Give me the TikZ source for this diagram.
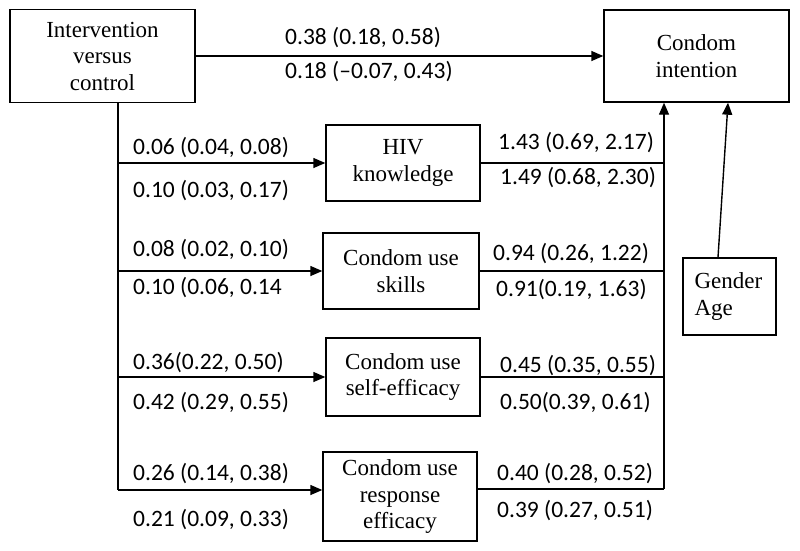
\documentclass[tikz,border=0pt]{standalone}
\usepackage{fontspec}
\setmainfont{Liberation Serif}
\newfontfamily\lblfont{Carlito}
\usetikzlibrary{arrows.meta}
\begin{document}
\begin{tikzpicture}[x=1pt,y=-1pt,
  box/.style={draw,line width=1.4pt,inner sep=0pt,align=center,
    font=\fontsize{23}{26.5}\selectfont},
  lbl/.style={inner sep=0pt,anchor=west,font=\lblfont\fontsize{23.5}{26}\selectfont},
  conn/.style={line width=1.4pt},
  arr/.style={line width=1.4pt,-{Triangle[length=12pt,width=10pt]}}]
\useasboundingbox (0,0) rectangle (800,551);
\node[box,minimum width=185pt,minimum height=93pt] (interv) at (102.5,56) {Intervention\\versus\\control};
\node[box,minimum width=185pt,minimum height=92pt] (cond) at (696.5,56) {Condom\\intention};
\node[box,minimum width=154pt,minimum height=76pt] (hiv) at (403,163) {HIV\\knowledge};
\node[box,minimum width=156pt,minimum height=76pt] (skill) at (401,271) {Condom use\\skills};
\node[box,minimum width=154pt,minimum height=78pt] (self) at (403,377) {Condom use\\self-efficacy};
\node[box,minimum width=154pt,minimum height=89pt] (resp) at (400,496.5) {Condom use\\response\\efficacy};
\node[box,minimum width=93pt,minimum height=77pt,align=left,text width=70pt] (gender) at (729.5,296.5) {Gender\\Age};
\coordinate (tL) at (118,490);
\coordinate (tR) at (664,489);
% top direct path
\draw[arr] (interv.east) -- (cond.west);
% left trunk and branches
\draw[conn] (interv.south -| tL) -- (tL);
\draw[arr] (tL |- hiv.west) -- (hiv.west);
\draw[arr] (tL |- skill.west) -- (skill.west);
\draw[arr] (tL |- self.west) -- (self.west);
\draw[arr] (tL) -- (resp.west |- tL);
% right branches and trunk
\draw[conn] (hiv.east) -- (tR |- hiv.east);
\draw[conn] (skill.east) -- (tR |- skill.east);
\draw[conn] (self.east) -- (tR |- self.east);
\draw[conn] (resp.east |- tR) -- (tR);
\draw[arr] (tR) -- (tR |- cond.south);
% covariates
\draw[arr] ([xshift=-11.5pt]gender.north) -- ([xshift=31.5pt]cond.south);
% labels
\node[lbl] (l1) at (285,38) {0.38 (0.18, 0.58)};
\node[lbl] (l2) at (285,72) {0.18 (–0.07, 0.43)};
\node[lbl] (l3) at (133,148) {0.06 (0.04, 0.08)};
\node[lbl] (l4) at (133,191) {0.10 (0.03, 0.17)};
\node[lbl] (l5) at (133,250) {0.08 (0.02, 0.10)};
\node[lbl] (l6) at (133,288) {0.10 (0.06, 0.14};
\node[lbl] (l7) at (133,363) {0.36(0.22, 0.50)};
\node[lbl] (l8) at (133,403) {0.42 (0.29, 0.55)};
\node[lbl] (l9) at (133,474) {0.26 (0.14, 0.38)};
\node[lbl] (l10) at (133,520) {0.21 (0.09, 0.33)};
\node[lbl] (r1) at (498,143) {1.43 (0.69, 2.17)};
\node[lbl] (r2) at (500,178) {1.49 (0.68, 2.30)};
\node[lbl] (r3) at (493,254) {0.94 (0.26, 1.22)};
\node[lbl] (r4) at (496,290) {0.91(0.19, 1.63)};
\node[lbl] (r5) at (500,366) {0.45 (0.35, 0.55)};
\node[lbl] (r6) at (500,403) {0.50(0.39, 0.61)};
\node[lbl] (r7) at (497,474) {0.40 (0.28, 0.52)};
\node[lbl] (r8) at (497,511) {0.39 (0.27, 0.51)};
\end{tikzpicture}
\end{document}
